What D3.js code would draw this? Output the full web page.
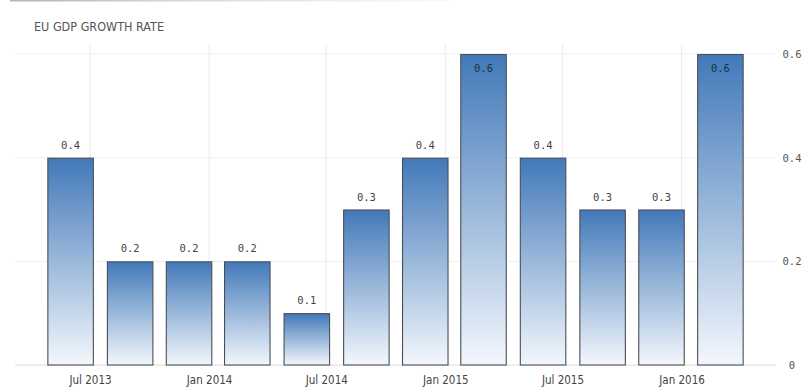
<!DOCTYPE html>
<html>
<head>
<meta charset="utf-8">
<script src="https://cdn.jsdelivr.net/npm/d3@7"></script>
<style>
  html, body { margin: 0; padding: 0; background: #fff; }
  svg { display: block; }
  text { font-family: "DejaVu Sans Condensed", "Liberation Sans Narrow", "DejaVu Sans", sans-serif; }
  .mono { font-family: "DejaVu Sans Mono", "Liberation Mono", monospace; }
</style>
</head>
<body>
<script>
// Quarterly EU GDP growth, quarter-on-quarter (%)
const quarters = ["2013-06-01", "2013-09-01", "2013-12-01", "2014-03-01",
                  "2014-06-01", "2014-09-01", "2014-12-01", "2015-03-01",
                  "2015-06-01", "2015-09-01", "2015-12-01", "2016-03-01"];
const growth = [0.4, 0.2, 0.2, 0.2, 0.1, 0.3, 0.4, 0.6, 0.4, 0.3, 0.3, 0.6];
const tickDates = ["2013-07-01", "2014-01-01", "2014-07-01", "2015-01-01", "2015-07-01", "2016-01-01"];
const yTicks = [0, 0.2, 0.4, 0.6];
const title = "EU GDP GROWTH RATE";

const W = 802, H = 389;
const parse = d3.utcParse("%Y-%m-%d");
const data = quarters.map((q, i) => ({ date: parse(q), value: growth[i] }));

const svg = d3.select("body").append("svg").attr("width", W).attr("height", H);

// faint frame edge along the top
const defs = svg.append("defs");
const edge = defs.append("linearGradient").attr("id", "edge");
edge.append("stop").attr("offset", "0%").attr("stop-color", "#aaa").attr("stop-opacity", 0.9);
edge.append("stop").attr("offset", "100%").attr("stop-color", "#ddd").attr("stop-opacity", 0.2);
svg.append("rect").attr("x", 10).attr("y", 0).attr("width", 440).attr("height", 1.5).attr("fill", "url(#edge)");

const barGrad = defs.append("linearGradient").attr("id", "barFill")
  .attr("x1", 0).attr("y1", 0).attr("x2", 0).attr("y2", 1);
barGrad.append("stop").attr("offset", "0%").attr("stop-color", "#4279b9");
barGrad.append("stop").attr("offset", "100%").attr("stop-color", "#f3f7fc");

const x = d3.scaleUtc()
  .domain([parse("2013-06-01"), parse("2016-03-01")])
  .range([70.6, 720.4]);
const y = d3.scaleLinear().domain([0, 0.6]).range([365, 54]);

const plotLeft = 15, plotRight = 776, plotTop = 44;

// vertical gridlines at the labelled dates
svg.append("g").selectAll("line").data(tickDates).join("line")
  .attr("x1", d => x(parse(d))).attr("x2", d => x(parse(d)))
  .attr("y1", plotTop).attr("y2", y(0))
  .attr("stroke", "#ececec").attr("stroke-width", 1);

// horizontal gridlines
svg.append("g").selectAll("line").data(yTicks).join("line")
  .attr("x1", plotLeft).attr("x2", plotRight)
  .attr("y1", d => y(d)).attr("y2", d => y(d))
  .attr("stroke", d => d === 0 ? "#dcdcdc" : "#efefef").attr("stroke-width", 1);

// right-hand value axis
const yAxis = d3.axisRight(y).tickValues(yTicks).tickSize(0).tickPadding(0)
  .tickFormat(d => d === 0 ? "0" : d3.format(".1f")(d));
svg.append("g").attr("transform", `translate(792,0)`).call(yAxis)
  .call(g => g.select(".domain").remove())
  .call(g => g.selectAll("text").attr("class", "mono").attr("text-anchor", "middle").attr("dy", "0.32em")
    .attr("fill", "#555").attr("font-size", 10.5));

// bottom date axis
const xAxis = d3.axisBottom(x).tickValues(tickDates.map(parse)).tickSize(0).tickPadding(0)
  .tickFormat(d3.utcFormat("%b %Y"));
svg.append("g").attr("transform", `translate(0,376)`).call(xAxis)
  .call(g => g.select(".domain").remove())
  .call(g => g.selectAll("text").attr("dy", "0.71em").attr("fill", "#444").attr("font-size", 11.5));

// bars
const barW = 46.5;
svg.append("g").selectAll("rect").data(data).join("rect")
  .attr("x", d => x(d.date) - barW / 2 + 0.5)
  .attr("y", d => y(d.value) + 0.5)
  .attr("width", barW - 1)
  .attr("height", d => y(0) - y(d.value) - 0.5)
  .attr("fill", "url(#barFill)")
  .attr("stroke", "#4a4f55").attr("stroke-width", 1.1);

// value labels: above the bar, or inside it when it reaches the top of the scale
svg.append("g").selectAll("text").data(data).join("text")
  .attr("class", "mono")
  .attr("x", d => x(d.date))
  .attr("y", d => d.value >= 0.6 ? y(d.value) + 18 : y(d.value) - 9)
  .attr("text-anchor", "middle")
  .attr("font-size", 10.5)
  .attr("fill", d => d.value >= 0.6 ? "#1e2f45" : "#444")
  .text(d => d3.format(".1f")(d.value));

// title
svg.append("text").attr("x", 34).attr("y", 31)
  .attr("font-size", 12.5).attr("fill", "#555")
  .text(title);
</script>
</body>
</html>
